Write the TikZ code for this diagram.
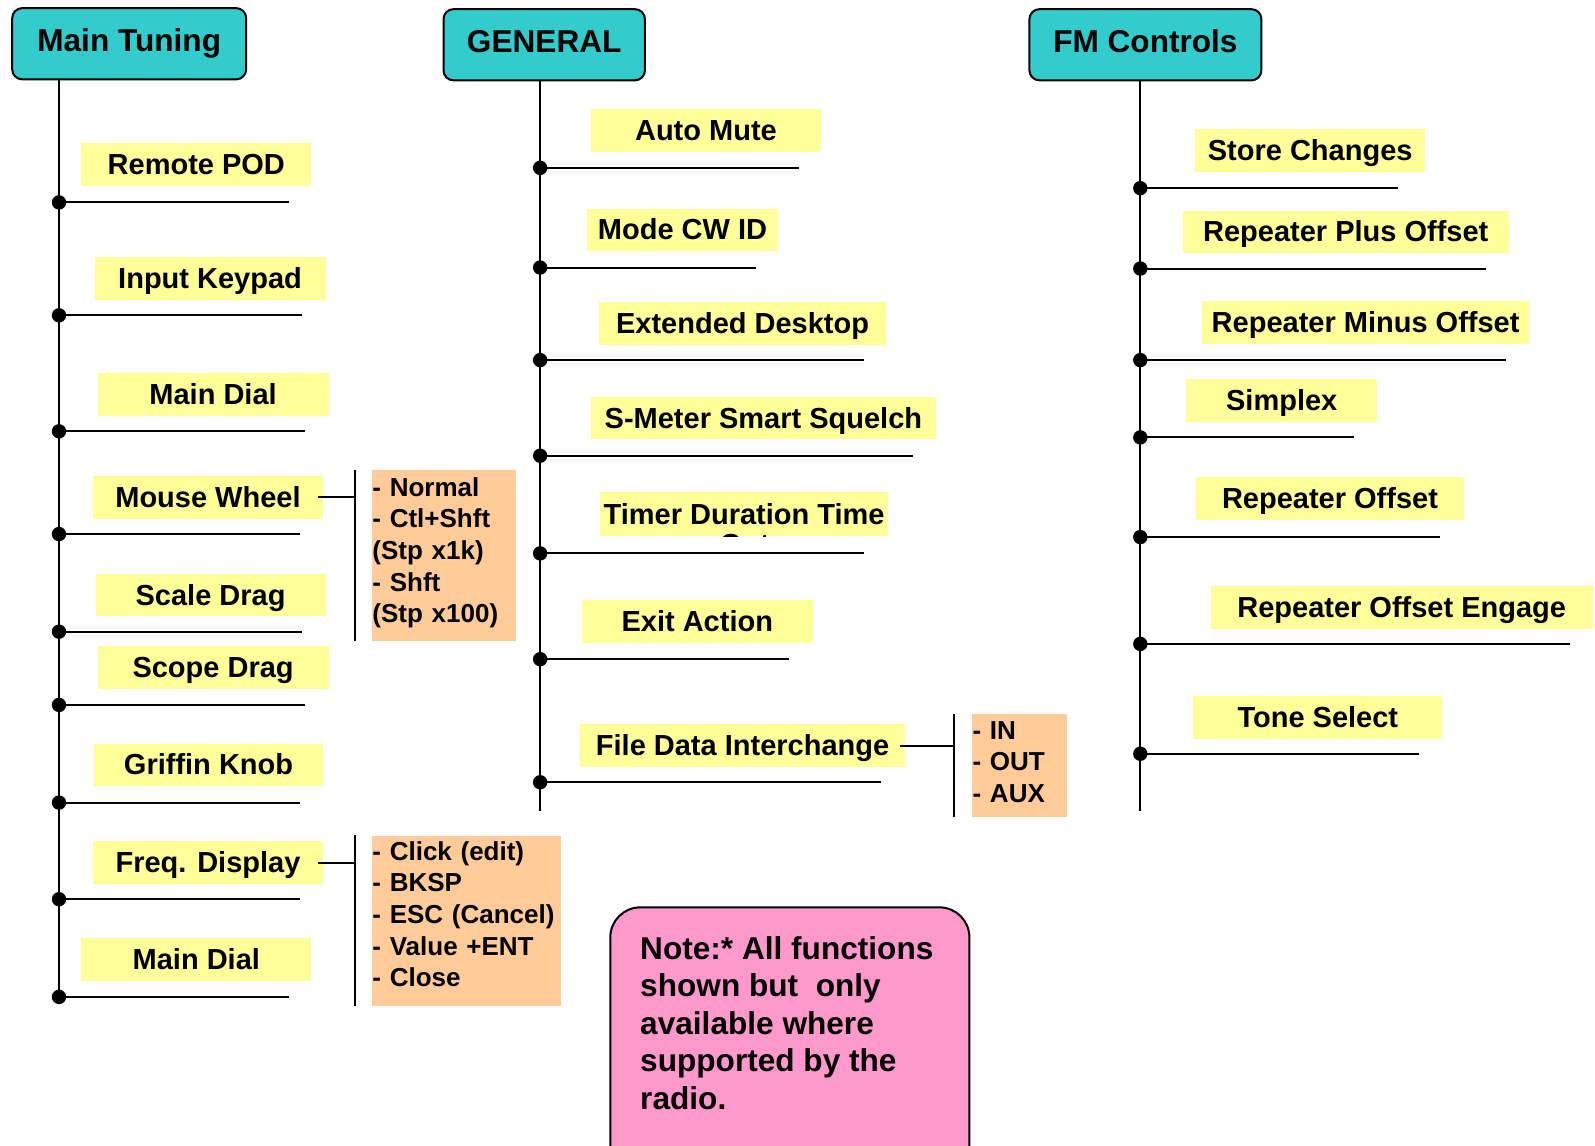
\documentclass[tikz,border=0pt]{standalone}
\usepackage{fontspec}
\setmainfont{Liberation Sans}
\definecolor{tealc}{HTML}{33CCCC}
\definecolor{yelc}{HTML}{FFFF99}
\definecolor{orac}{HTML}{FFCC99}
\definecolor{pnkc}{HTML}{FF99CC}
\newcommand\boxnode[7][ybox]{\node[#1, minimum width={(#5-#3)*0.5086pt}, minimum height={(#6-#4)*0.5086pt}] (#2) at ({(#3+#5)/2},{(#4+#6)/2}) {#7};}
\newcommand\branchline[4]{\coordinate (#1d) at (#2,#3); \coordinate (#1e) at (#4,#3); \draw[conn] (#1d) -- (#1e); \fill (#1d) circle (3.6pt);}
\begin{document}
\begin{tikzpicture}[x=0.5086pt,y=-0.5086pt,
 ybox/.style={fill=yelc, inner sep=0pt, font=\fontsize{14.5pt}{17pt}\selectfont\bfseries, text height=10pt, text depth=0pt},
 hdr/.style={draw=black, line width=1pt, fill=tealc, rounded corners=5pt, inner sep=0pt, font=\fontsize{15.8pt}{18pt}\selectfont\bfseries, text height=8pt, text depth=0pt},
 obox/.style={fill=orac, inner xsep=0.4pt, inner ysep=0pt, align=left, anchor=north west, font=\fontsize{13pt}{15.8pt}\selectfont\bfseries},
 conn/.style={line width=1pt, black},
 notebox/.style={draw=black, line width=1pt, fill=pnkc, rounded corners=15pt, anchor=north west, inner sep=0pt},
 notetxt/.style={anchor=north west, inner sep=0pt, align=left, font=\fontsize{15.8pt}{18.8pt}\selectfont\bfseries}
]
\useasboundingbox (0,0) rectangle (1568,1126);
\clip (0,0) rectangle (1568,1126);

% headers
\boxnode[hdr]{mt}{12}{8}{242}{78}{Main Tuning}
\boxnode[hdr]{gen}{436}{9}{634}{79}{GENERAL}
\boxnode[hdr]{fm}{1012}{9}{1240}{79}{FM Controls}

% Main Tuning
\boxnode{m1}{80}{141}{306}{183}{Remote POD}
\boxnode{m2}{93}{253}{320}{295}{Input Keypad}
\boxnode{m3}{96}{367}{323}{409}{Main Dial}
\boxnode{m4}{91}{468}{318}{510}{Mouse Wheel}
\boxnode{m5}{94}{564}{320}{606}{Scale Drag}
\boxnode{m6}{96}{635}{323}{677}{Scope Drag}
\boxnode{m7}{92}{731}{318}{773}{Griffin Knob}
\boxnode{m8}{91}{827}{318}{869}{Freq. Display}
\boxnode{m9}{80}{922}{306}{964}{Main Dial}
\branchline{m1}{58}{199}{284}
\branchline{m2}{58}{310}{297}
\branchline{m3}{58}{424}{300}
\branchline{m4}{58}{525}{295}
\branchline{m5}{58}{621}{297}
\branchline{m6}{58}{693}{300}
\branchline{m7}{58}{789}{295}
\branchline{m8}{58}{884}{295}
\branchline{m9}{58}{980}{284}
\draw[conn] (mt.south -| m9d) -- ([yshift=-2pt]m9d);

% Mouse wheel options
\node[obox, minimum width={141*0.5086pt}, minimum height={168*0.5086pt}, text width={140*0.5086pt}] (o1) at (365,462)
 {- Normal\\- Ctl+Shft\\(Stp x1k)\\- Shft\\(Stp x100)\rule[-5.7pt]{0pt}{1pt}};
\coordinate (b1t) at (349,462);
\coordinate (b1b) at (349,630);
\draw[conn] (b1t) -- (b1b);
\draw[conn] ([xshift=-3pt]m4.east) -- (b1t |- m4.east);

% Freq display options
\node[obox, minimum width={186*0.5086pt}, minimum height={168*0.5086pt}, text width={185*0.5086pt}] (o2) at (365,821)
 {- Click (edit)\\- BKSP\\- ESC (Cancel)\\- Value +ENT\\- Close\rule[-7pt]{0pt}{1pt}};
\coordinate (b2t) at (349,821);
\coordinate (b2b) at (349,989);
\draw[conn] (b2t) -- (b2b);
\draw[conn] ([xshift=-3pt]m8.east) -- (b2t |- m8.east);

% GENERAL
\boxnode{g1}{581}{107}{807}{149}{Auto Mute}
\boxnode{g2}{577}{205}{765}{247}{Mode CW ID}
\boxnode{g3}{589}{297}{871}{339}{Extended Desktop}
\boxnode{g4}{581}{390}{920}{432}{S-Meter Smart Squelch}
\boxnode{g5}{590}{484}{873}{527}{Timer Duration Time}
\begin{scope}
\clip (g5.south west) rectangle (g5.north east);
\node[ybox, fill=none] (g5out) at (732,535) {Out};
\end{scope}
\boxnode{g6}{572}{590}{799}{632}{Exit Action}
\boxnode{g7}{570}{712}{890}{754}{File Data Interchange}
\branchline{g1}{531}{165}{785}
\branchline{g2}{531}{263}{743}
\branchline{g3}{531}{354}{849}
\branchline{g4}{531}{448}{898}
\branchline{g5}{531}{544}{849}
\branchline{g6}{531}{648}{776}
\branchline{g7}{531}{769}{866}
\coordinate (gend) at (531,797);
\draw[conn] (gen.south -| gend) -- (gend);

\node[obox, minimum width={93*0.5086pt}, minimum height={101*0.5086pt}, text width={92*0.5086pt}] (o3) at (955,702)
 {- IN\\- OUT\\- AUX\rule[-4pt]{0pt}{1pt}};
\coordinate (b3t) at (938,702);
\coordinate (b3b) at (938,803);
\draw[conn] (b3t) -- (b3b);
\draw[conn] ([xshift=-3pt]g7.east) -- (b3t |- g7.east);

% FM Controls
\boxnode{f1}{1175}{127}{1401}{169}{Store Changes}
\boxnode{f2}{1163}{207}{1483}{249}{Repeater Plus Offset}
\boxnode{f3}{1182}{296}{1503}{338}{Repeater Minus Offset}
\boxnode{f4}{1166}{373}{1354}{415}{Simplex}
\boxnode{f5}{1176}{469}{1439}{511}{Repeater Offset}
\boxnode{f6}{1190}{576}{1566}{618}{Repeater Offset Engage}
\boxnode{f7}{1173}{684}{1418}{726}{Tone Select}
\branchline{f1}{1121}{185}{1374}
\branchline{f2}{1121}{264}{1461}
\branchline{f3}{1121}{354}{1480}
\branchline{f4}{1121}{430}{1331}
\branchline{f5}{1121}{528}{1416}
\branchline{f6}{1121}{633}{1543}
\branchline{f7}{1121}{741}{1395}
\coordinate (fend) at (1121,797);
\draw[conn] (fm.south -| fend) -- (fend);

% Note
\node[notebox, minimum width={353*0.5086pt}, minimum height={280*0.5086pt}] (note) at (599,891) {};
\node[notetxt] (notet) at (629,920) {Note:* All functions\\shown but\ \ only\\available where\\supported by the\\radio.};
\end{tikzpicture}
\end{document}
